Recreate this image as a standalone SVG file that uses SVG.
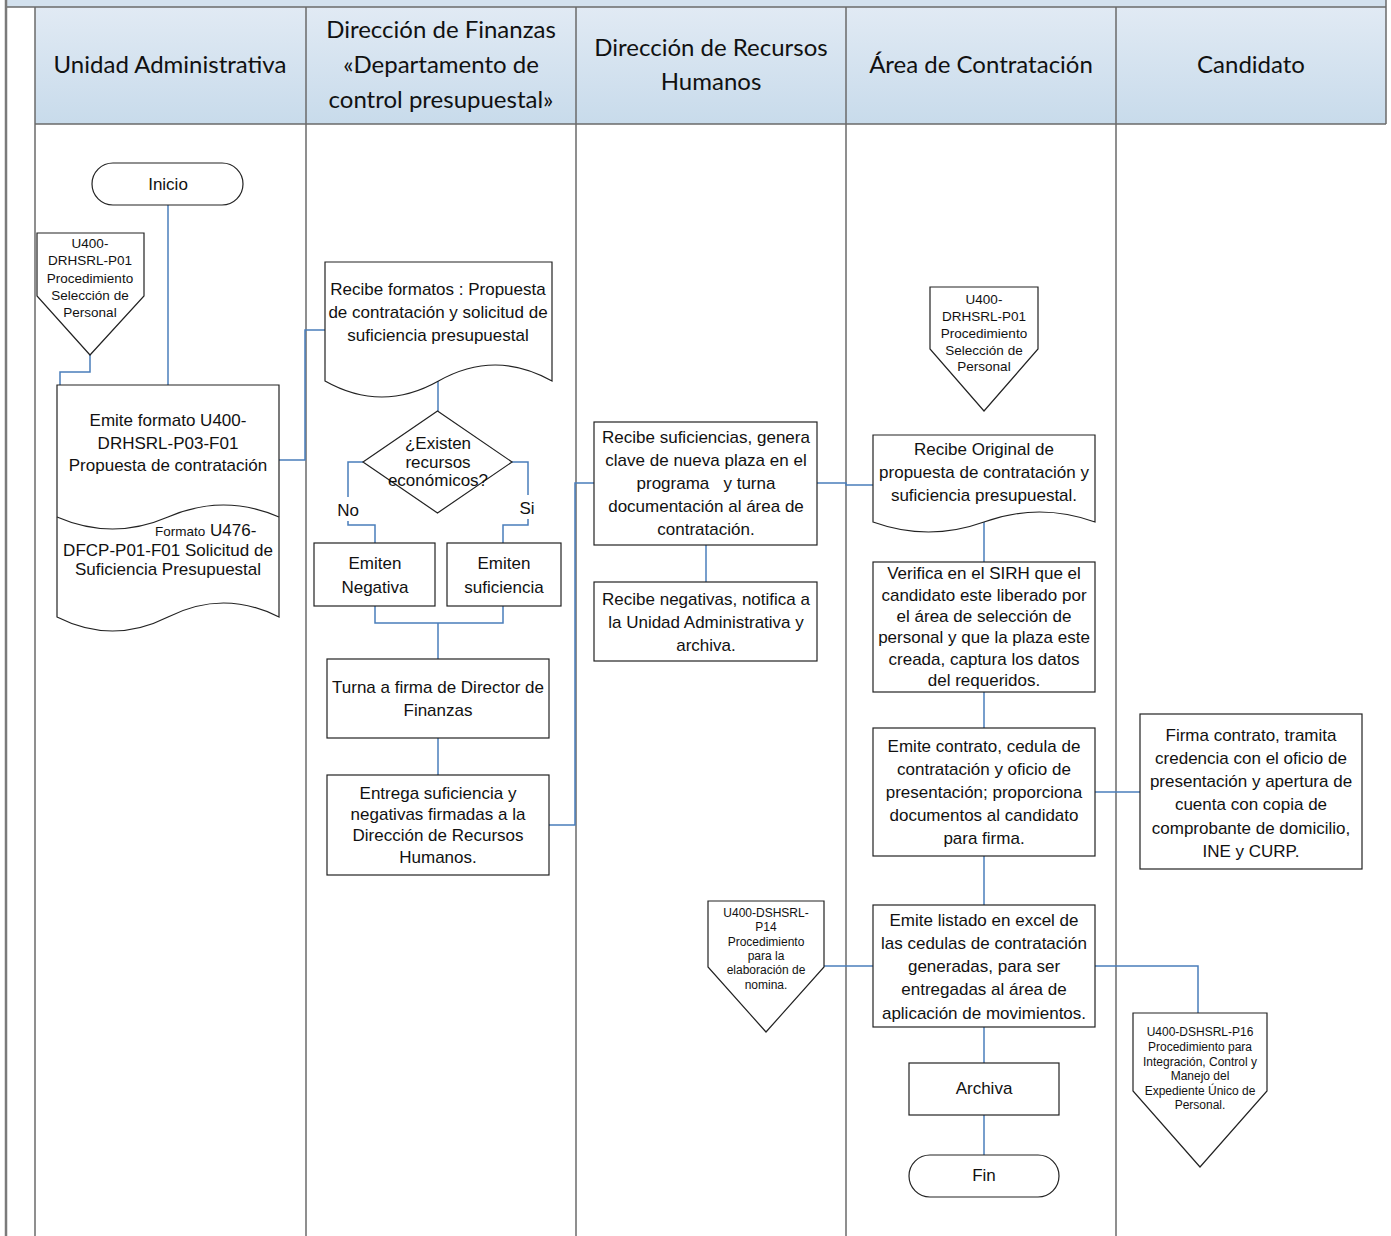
<svg xmlns="http://www.w3.org/2000/svg" width="1391" height="1236" viewBox="0 0 1391 1236">
<defs>
<linearGradient id="hg" x1="0" y1="0" x2="0" y2="1">
<stop offset="0" stop-color="#e1eaf4"/>
<stop offset="1" stop-color="#c8dbeb"/>
</linearGradient>
<style>
.lane{stroke:#6a6a6a;stroke-width:1.5;fill:none}
.hd{font-family:Lato,"Open Sans",sans-serif;font-size:24px;fill:#111;text-anchor:middle}
.n{fill:#fff;stroke:#222;stroke-width:1.2}
.t{font-family:"Liberation Sans",Arial,sans-serif;font-size:17px;fill:#111;text-anchor:middle}
.s{font-family:"Liberation Sans",Arial,sans-serif;font-size:13.5px;fill:#111;text-anchor:middle}
.xs{font-family:"Liberation Sans",Arial,sans-serif;font-size:12px;fill:#111;text-anchor:middle}
.c{fill:none;stroke:#4a7ebb;stroke-width:1.5}
</style>
</defs>
<rect width="1391" height="1236" fill="#fff"/>
<g id="lanes">
<rect x="6" y="0" width="1380" height="7" fill="#d3e1ee"/>
<rect x="35" y="7" width="1351" height="117" fill="url(#hg)"/>
<line class="lane" x1="6" y1="7" x2="1386" y2="7"/>
<line class="lane" x1="35" y1="124" x2="1386" y2="124"/>
<line x1="6" y1="0" x2="6" y2="1236" stroke="#7a7a7a" stroke-width="2.5"/>
<line class="lane" x1="1386" y1="0" x2="1386" y2="124"/>
<line class="lane" x1="35" y1="7" x2="35" y2="1236"/>
<line class="lane" x1="306" y1="7" x2="306" y2="1236"/>
<line class="lane" x1="576" y1="7" x2="576" y2="1236"/>
<line class="lane" x1="846" y1="7" x2="846" y2="1236"/>
<line class="lane" x1="1116" y1="7" x2="1116" y2="1236"/>
<text class="hd" x="170" y="73">Unidad Administrativa</text>
<text class="hd" x="441" y="38">Dirección de Finanzas</text>
<text class="hd" x="441" y="73">«Departamento de</text>
<text class="hd" x="441" y="108">control presupuestal»</text>
<text class="hd" x="711" y="56">Dirección de Recursos</text>
<text class="hd" x="711" y="90">Humanos</text>
<text class="hd" x="981" y="73">Área de Contratación</text>
<text class="hd" x="1251" y="73">Candidato</text>
</g>
<g id="connectors">
<path class="c" d="M168,205 V385"/>
<path class="c" d="M90,355 V372 H60 V385"/>
<path class="c" d="M279,460 H305 V330 H325"/>
<path class="c" d="M438,381 V411"/>
<path class="c" d="M363,462 H348 V525 H375 V543"/>
<path class="c" d="M512,462 H528 V525 H503 V543"/>
<path class="c" d="M375,606 V623 H503 V606"/>
<path class="c" d="M438,623 V659"/>
<path class="c" d="M438,738 V775"/>
<path class="c" d="M549,825 H575 V483 H594"/>
<path class="c" d="M706,545 V582"/>
<path class="c" d="M817,483 H846 V485 H873"/>
<path class="c" d="M984,522 V562"/>
<path class="c" d="M984,692 V728"/>
<path class="c" d="M1095,792 H1140"/>
<path class="c" d="M984,856 V906"/>
<path class="c" d="M824,966 H873"/>
<path class="c" d="M1095,966 H1198 V1013"/>
<path class="c" d="M984,1027 V1063"/>
<path class="c" d="M984,1115 V1155"/>
<rect x="336" y="497" width="25" height="24" fill="#fff"/>
<text class="t" x="348" y="516">No</text>
<rect x="517" y="495" width="21" height="24" fill="#fff"/>
<text class="t" x="527" y="514">Si</text>
</g>
<g id="inicio">
<rect class="n" x="92" y="163" width="151" height="42" rx="21"/>
<text class="t" x="168" y="190">Inicio</text>
</g>
<g id="ref-p01-a">
<path class="n" d="M37,233 H144 V296 L90,355 L37,296 Z"/>
<text class="s" x="90" y="248">U400-</text>
<text class="s" x="90" y="265">DRHSRL-P01</text>
<text class="s" x="90" y="283">Procedimiento</text>
<text class="s" x="90" y="300">Selección de</text>
<text class="s" x="90" y="317">Personal</text>
</g>
<g id="emite-formato">
<path class="n" d="M57,385 H279 V617 Q223.5,589 168,617 T57,617 Z"/>
<path class="n" d="M57,517 Q112.5,541 168,517 T279,517" fill="none"/>
<text class="t" x="168" y="426">Emite formato U400-</text>
<text class="t" x="168" y="449">DRHSRL-P03-F01</text>
<text class="t" x="168" y="471">Propuesta de contratación</text>
<text class="t" x="155" y="536" style="text-anchor:start"><tspan font-size="13.5">Formato</tspan> U476-</text>
<text class="t" x="168" y="556">DFCP-P01-F01 Solicitud de</text>
<text class="t" x="168" y="575">Suficiencia Presupuestal</text>
</g>
<g id="recibe-formatos">
<path class="n" d="M325,262 H552 V381 Q495.25,349 438.5,381 T325,381 Z"/>
<text class="t" x="438" y="295">Recibe formatos : Propuesta</text>
<text class="t" x="438" y="318">de contratación y solicitud de</text>
<text class="t" x="438" y="341">suficiencia presupuestal</text>
</g>
<g id="decision">
<path class="n" d="M437.5,411 L512,462 L437.5,513 L363,462 Z"/>
<text class="t" x="438" y="449">¿Existen</text>
<text class="t" x="438" y="468">recursos</text>
<text class="t" x="438" y="486">económicos?</text>
</g>
<g id="emiten-negativa">
<rect class="n" x="314" y="543" width="121" height="63"/>
<text class="t" x="375" y="569">Emiten</text>
<text class="t" x="375" y="593">Negativa</text>
</g>
<g id="emiten-suficiencia">
<rect class="n" x="447" y="543" width="114" height="63"/>
<text class="t" x="504" y="569">Emiten</text>
<text class="t" x="504" y="593">suficiencia</text>
</g>
<g id="turna">
<rect class="n" x="327" y="659" width="222" height="79"/>
<text class="t" x="438" y="693">Turna a firma de Director de</text>
<text class="t" x="438" y="716">Finanzas</text>
</g>
<g id="entrega">
<rect class="n" x="327" y="775" width="222" height="100"/>
<text class="t" x="438" y="799">Entrega suficiencia y</text>
<text class="t" x="438" y="820">negativas firmadas a la</text>
<text class="t" x="438" y="841">Dirección de Recursos</text>
<text class="t" x="438" y="863">Humanos.</text>
</g>
<g id="recibe-suficiencias">
<rect class="n" x="594" y="422" width="223" height="123"/>
<text class="t" x="706" y="443">Recibe suficiencias, genera</text>
<text class="t" x="706" y="466">clave de nueva plaza en el</text>
<text class="t" x="706" y="489" style="white-space:pre">programa   y turna</text>
<text class="t" x="706" y="512">documentación al área de</text>
<text class="t" x="706" y="535">contratación.</text>
</g>
<g id="recibe-negativas">
<rect class="n" x="594" y="582" width="223" height="79"/>
<text class="t" x="706" y="605">Recibe negativas, notifica a</text>
<text class="t" x="706" y="628">la Unidad Administrativa y</text>
<text class="t" x="706" y="651">archiva.</text>
</g>
<g id="ref-p01-b">
<path class="n" d="M930,287 H1038 V349 L984,411 L930,349 Z"/>
<text class="s" x="984" y="304">U400-</text>
<text class="s" x="984" y="321">DRHSRL-P01</text>
<text class="s" x="984" y="338">Procedimiento</text>
<text class="s" x="984" y="355">Selección de</text>
<text class="s" x="984" y="371">Personal</text>
</g>
<g id="recibe-original">
<path class="n" d="M873,435 H1095 V522 Q1039.5,502 984,522 T873,522 Z"/>
<text class="t" x="984" y="455">Recibe Original de</text>
<text class="t" x="984" y="478">propuesta de contratación y</text>
<text class="t" x="984" y="501">suficiencia presupuestal.</text>
</g>
<g id="verifica">
<rect class="n" x="873" y="562" width="222" height="130"/>
<text class="t" x="984" y="579">Verifica en el SIRH que el</text>
<text class="t" x="984" y="601">candidato este liberado por</text>
<text class="t" x="984" y="622">el área de selección de</text>
<text class="t" x="984" y="643">personal y que la plaza este</text>
<text class="t" x="984" y="665">creada, captura los datos</text>
<text class="t" x="984" y="686">del requeridos.</text>
</g>
<g id="emite-contrato">
<rect class="n" x="873" y="728" width="222" height="128"/>
<text class="t" x="984" y="752">Emite contrato, cedula de</text>
<text class="t" x="984" y="775">contratación y oficio de</text>
<text class="t" x="984" y="798">presentación; proporciona</text>
<text class="t" x="984" y="821">documentos al candidato</text>
<text class="t" x="984" y="844">para firma.</text>
</g>
<g id="firma-contrato">
<rect class="n" x="1140" y="714" width="222" height="155"/>
<text class="t" x="1251" y="741">Firma contrato, tramita</text>
<text class="t" x="1251" y="764">credencia con el oficio de</text>
<text class="t" x="1251" y="787">presentación y apertura de</text>
<text class="t" x="1251" y="810">cuenta con copia de</text>
<text class="t" x="1251" y="834">comprobante de domicilio,</text>
<text class="t" x="1251" y="857">INE y CURP.</text>
</g>
<g id="ref-p14">
<path class="n" d="M708,901 H824 V967 L766,1032 L708,967 Z"/>
<text class="xs" x="766" y="917">U400-DSHSRL-</text>
<text class="xs" x="766" y="931">P14</text>
<text class="xs" x="766" y="946">Procedimiento</text>
<text class="xs" x="766" y="960">para la</text>
<text class="xs" x="766" y="974">elaboración de</text>
<text class="xs" x="766" y="989">nomina.</text>
</g>
<g id="emite-listado">
<rect class="n" x="873" y="905" width="222" height="122"/>
<text class="t" x="984" y="926">Emite listado en excel de</text>
<text class="t" x="984" y="949">las cedulas de contratación</text>
<text class="t" x="984" y="972">generadas, para ser</text>
<text class="t" x="984" y="995">entregadas al área de</text>
<text class="t" x="984" y="1019">aplicación de movimientos.</text>
</g>
<g id="ref-p16">
<path class="n" d="M1133,1013 H1267 V1091 L1200,1167 L1133,1091 Z"/>
<text class="xs" x="1200" y="1036">U400-DSHSRL-P16</text>
<text class="xs" x="1200" y="1051">Procedimiento para</text>
<text class="xs" x="1200" y="1066">Integración, Control y</text>
<text class="xs" x="1200" y="1080">Manejo del</text>
<text class="xs" x="1200" y="1095">Expediente Único de</text>
<text class="xs" x="1200" y="1109">Personal.</text>
</g>
<g id="archiva">
<rect class="n" x="909" y="1063" width="150" height="52"/>
<text class="t" x="984" y="1094">Archiva</text>
</g>
<g id="fin">
<rect class="n" x="909" y="1155" width="150" height="42" rx="21"/>
<text class="t" x="984" y="1181">Fin</text>
</g>
</svg>
